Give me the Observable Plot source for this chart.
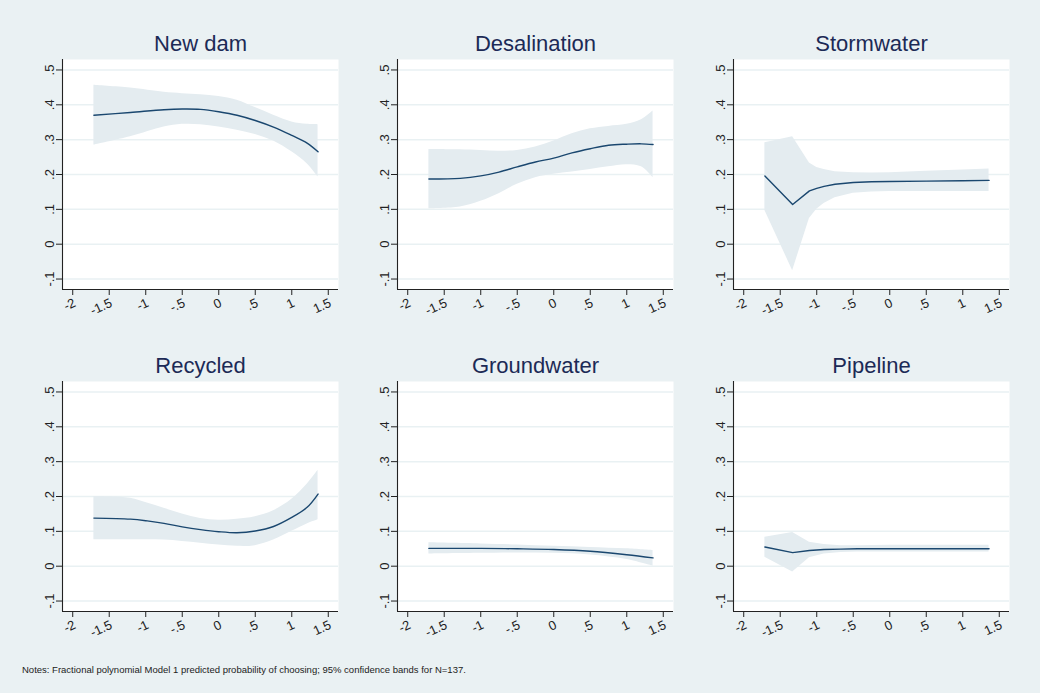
<!DOCTYPE html>
<html>
<head>
<meta charset="utf-8">
<script src="https://cdn.jsdelivr.net/npm/d3@7"></script>
<script src="https://cdn.jsdelivr.net/npm/@observablehq/plot@0.6"></script>
<style>
  html, body { margin: 0; padding: 0; background: #eaf1f3; }
  #page { position: relative; width: 1040px; height: 693px; background: #eaf1f3; overflow: hidden;
          font-family: "Liberation Sans", Arial, Helvetica, sans-serif; }
  .panel { position: absolute; }
  #notes { position: absolute; left: 22px; top: 664px; font-size: 9.5px; color: #222; white-space: nowrap; }
</style>
</head>
<body>
<div id="page">
  <div id="notes">Notes: Fractional polynomial Model 1 predicted probability of choosing; 95% confidence bands for N=137.</div>
</div>
<script>
// ---- Data ----
const panelTitles = ["New dam", "Desalination", "Stormwater", "Recycled", "Groundwater", "Pipeline"];
const xTicks = [-2, -1.5, -1, -0.5, 0, 0.5, 1, 1.5];
const yTicks = [-0.1, 0, 0.1, 0.2, 0.3, 0.4, 0.5];

const newDamX   = [-1.71, -1.21, -0.75, -0.5, -0.25, 0, 0.25, 0.5, 0.75, 1, 1.21, 1.36];
const newDamFit = [0.370, 0.378, 0.386, 0.388, 0.387, 0.380, 0.370, 0.355, 0.336, 0.312, 0.290, 0.265];
const newDamHi  = [0.456, 0.448, 0.436, 0.432, 0.429, 0.424, 0.413, 0.392, 0.370, 0.351, 0.344, 0.343];
const newDamLo  = [0.284, 0.308, 0.336, 0.344, 0.343, 0.336, 0.327, 0.315, 0.296, 0.265, 0.231, 0.193];

const desalX   = [-1.71, -1.28, -1, -0.75, -0.5, -0.25, 0, 0.25, 0.5, 0.75, 1, 1.2, 1.36];
const desalFit = [0.187, 0.189, 0.196, 0.207, 0.222, 0.236, 0.247, 0.262, 0.274, 0.284, 0.287, 0.288, 0.286];
const desalHi  = [0.272, 0.271, 0.269, 0.267, 0.269, 0.279, 0.296, 0.317, 0.331, 0.338, 0.344, 0.357, 0.382];
const desalLo  = [0.102, 0.107, 0.123, 0.145, 0.172, 0.191, 0.201, 0.207, 0.214, 0.222, 0.228, 0.222, 0.191];

const stormX   = [-1.71, -1.33, -1.1, -1.0, -0.9, -0.75, -0.5, -0.25, 0, 0.5, 1, 1.36];
const stormFit = [0.196, 0.114, 0.153, 0.160, 0.166, 0.172, 0.177, 0.179, 0.180, 0.181, 0.182, 0.183];
const stormHi  = [0.291, 0.308, 0.233, 0.220, 0.214, 0.208, 0.205, 0.204, 0.205, 0.209, 0.213, 0.216];
const stormLo  = [0.097, -0.076, 0.074, 0.100, 0.117, 0.133, 0.146, 0.150, 0.151, 0.151, 0.151, 0.151];

const recycX   = [-1.71, -1.21, -0.98, -0.75, -0.5, -0.25, 0, 0.25, 0.5, 0.75, 1, 1.21, 1.36];
const recycFit = [0.138, 0.135, 0.130, 0.123, 0.113, 0.105, 0.099, 0.096, 0.101, 0.114, 0.140, 0.169, 0.207];
const recycHi  = [0.200, 0.195, 0.181, 0.166, 0.150, 0.137, 0.132, 0.135, 0.142, 0.159, 0.192, 0.235, 0.275];
const recycLo  = [0.076, 0.076, 0.076, 0.075, 0.071, 0.066, 0.061, 0.057, 0.059, 0.075, 0.100, 0.121, 0.133];

const groundX   = [-1.71, -1, -0.5, 0, 0.5, 1, 1.36];
const groundFit = [0.051, 0.051, 0.050, 0.048, 0.043, 0.033, 0.024];
const groundHi  = [0.067, 0.064, 0.061, 0.057, 0.054, 0.050, 0.045];
const groundLo  = [0.035, 0.037, 0.038, 0.037, 0.032, 0.019, 0.000];

const pipeX   = [-1.71, -1.33, -1.1, -0.9, -0.67, -0.44, 0, 0.47, 0.93, 1.36];
const pipeFit = [0.055, 0.039, 0.045, 0.048, 0.049, 0.050, 0.050, 0.050, 0.050, 0.050];
const pipeHi  = [0.083, 0.097, 0.069, 0.062, 0.059, 0.059, 0.060, 0.060, 0.060, 0.060];
const pipeLo  = [0.026, -0.017, 0.024, 0.035, 0.039, 0.041, 0.041, 0.041, 0.041, 0.041];

// ---- Styling ----
const FONT = '"Liberation Sans", Arial, Helvetica, sans-serif';
const lineColor = "#1a476f";
const bandColor = "#e4ecf0";
const gridColor = "#e9f1f3";
const axisColor = "#222";
const titleColor = "#1c2a56";
const xDomain = [-2.14, 1.64];
const yDomain = [-0.13, 0.53];
const fmt = d => String(d).replace(/^(-?)0\./, "$1.");
const blank = () => "";

function panel(title, xs, fit, lo, hi, curve) {
  const rows = xs.map((x, i) => ({x, fit: fit[i], lo: lo[i], hi: hi[i]}));
  return Plot.plot({
    width: 328, height: 315,
    marginLeft: 40, marginRight: 12, marginTop: 45, marginBottom: 40,
    style: {background: "transparent", fontFamily: FONT, fontSize: "12px", color: "#222", overflow: "visible"},
    x: {domain: xDomain, label: null},
    y: {domain: yDomain, label: null},
    marks: [
      Plot.frame({fill: "white"}),
      Plot.gridY(yTicks, {stroke: gridColor, strokeOpacity: 1, strokeWidth: 1.5}),
      Plot.areaY(rows, {x: "x", y1: "lo", y2: "hi", fill: bandColor, fillOpacity: 1, curve}),
      Plot.lineY(rows, {x: "x", y: "fit", stroke: lineColor, strokeWidth: 1.4, curve}),
      Plot.ruleX([xDomain[0]], {stroke: axisColor, strokeWidth: 1.1}),
      Plot.ruleY([yDomain[0]], {stroke: axisColor, strokeWidth: 1.1}),
      Plot.axisX(xTicks, {label: null, tickSize: 6, tickFormat: blank, stroke: axisColor}),
      Plot.axisY(yTicks, {label: null, tickSize: 6, tickFormat: blank, stroke: axisColor}),
      Plot.text(xTicks, {x: d => d, frameAnchor: "bottom", dy: 8, rotate: -25, textAnchor: "end", lineAnchor: "top",
                         text: fmt, fontSize: 13, fill: "#222", fontFamily: FONT}),
      Plot.text(yTicks, {y: d => d, frameAnchor: "left", dx: -13, rotate: -90, textAnchor: "middle", lineAnchor: "middle",
                         text: fmt, fontSize: 13, fill: "#222", fontFamily: FONT}),
      Plot.text([title], {frameAnchor: "top", dy: -9, lineAnchor: "bottom", fontSize: 22, fill: titleColor, fontFamily: FONT})
    ]
  });
}

const specs = [
  [newDamX, newDamFit, newDamLo, newDamHi, "catmull-rom"],
  [desalX, desalFit, desalLo, desalHi, "catmull-rom"],
  [stormX, stormFit, stormLo, stormHi, "linear"],
  [recycX, recycFit, recycLo, recycHi, "catmull-rom"],
  [groundX, groundFit, groundLo, groundHi, "catmull-rom"],
  [pipeX, pipeFit, pipeLo, pipeHi, "linear"]
];
const lefts = [22, 357.3, 692.7];
const tops = [14, 336];
const page = document.getElementById("page");
specs.forEach((s, i) => {
  const el = panel(panelTitles[i], s[0], s[1], s[2], s[3], s[4]);
  const wrap = document.createElement("div");
  wrap.className = "panel";
  wrap.style.left = lefts[i % 3] + "px";
  wrap.style.top = tops[Math.floor(i / 3)] + "px";
  wrap.appendChild(el);
  page.appendChild(wrap);
});
</script>
</body>
</html>
